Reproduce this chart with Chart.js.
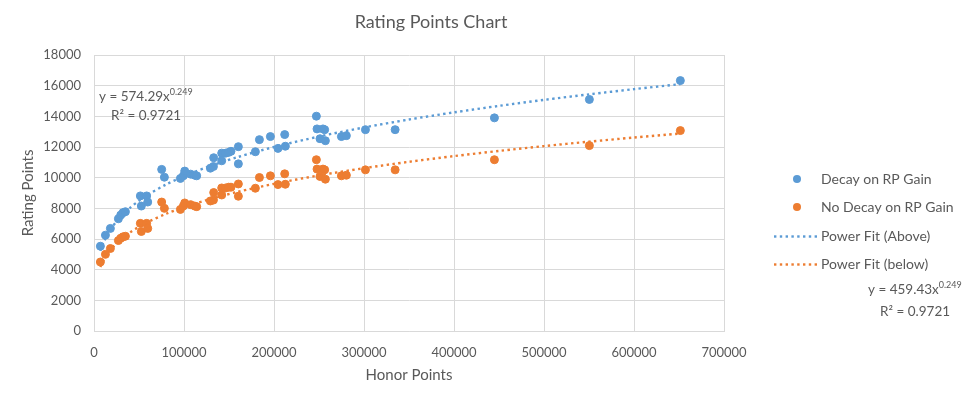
<!DOCTYPE html>
<html>
<head>
<meta charset="utf-8">
<script src="https://cdn.jsdelivr.net/npm/chart.js@4"></script>
<style>
  html, body { margin: 0; padding: 0; background: #fff; }
  #wrap { width: 965px; height: 396px; }
</style>
</head>
<body>
<div id="wrap"><canvas id="rpChart" width="965" height="396"></canvas></div>
<script>
// data
const honorPoints = [7100, 12700, 18200, 27100, 29700, 32200, 34900, 51500, 52600, 58500, 59700, 75200, 78200, 96000, 99300, 100800, 107400, 111900, 114100, 129300, 132700, 133000, 141900, 141900, 146300, 149700, 152200, 160400, 160400, 179300, 183800, 196000, 204400, 211900, 212600, 247100, 247800, 254400, 256300, 251100, 257100, 274900, 280400, 301600, 334600, 444900, 550400, 651500];
const decayRP = [5530, 6250, 6690, 7320, 7560, 7720, 7780, 8810, 8150, 8810, 8410, 10540, 10030, 9950, 10120, 10430, 10230, 10160, 10120, 10620, 10730, 11300, 11600, 11100, 11600, 11650, 11720, 12020, 10900, 11690, 12480, 12680, 11910, 12810, 12050, 14010, 13180, 13180, 13130, 12540, 12410, 12680, 12740, 13130, 13130, 13900, 15100, 16330];
const noDecayRP = [4500, 5000, 5380, 5900, 6050, 6140, 6180, 7020, 6490, 7020, 6690, 8410, 8000, 7930, 8150, 8350, 8240, 8150, 8110, 8480, 8540, 9030, 9330, 8870, 9330, 9380, 9380, 9590, 8790, 9310, 10010, 10120, 9550, 10250, 9570, 11170, 10560, 10560, 10510, 10080, 9900, 10120, 10160, 10510, 10510, 11170, 12090, 13070];

// trendline samples as shown in the picture
const fitX = [7100, 10000, 15000, 20000, 25000, 30000, 40000, 50000, 60000, 80000, 100000, 130000, 160000, 200000, 250000, 300000, 350000, 400000, 450000, 500000, 550000, 600000, 651500];
const fitAbove = [5225, 5691, 6295, 6762, 7148, 7481, 8036, 8496, 8889, 9550, 10096, 10777, 11349, 11998, 12683, 13273, 13792, 14258, 14682, 15073, 15434, 15773, 16100];
const fitBelow = [4180, 4553, 5036, 5410, 5719, 5985, 6429, 6796, 7111, 7640, 8077, 8622, 9079, 9598, 10147, 10618, 11034, 11406, 11745, 12058, 12347, 12618, 12880];

const seriesNames = ["Decay on RP Gain", "No Decay on RP Gain", "Power Fit (Above)", "Power Fit (below)"];
const xTicks = [0, 100000, 200000, 300000, 400000, 500000, 600000, 700000];
const yTicks = [0, 2000, 4000, 6000, 8000, 10000, 12000, 14000, 16000, 18000];

const blue = "#5B9BD5";
const orange = "#ED7D31";
const textColor = "#595959";
const gridColor = "#d9d9d9";
const font = "Lato, 'Open Sans', sans-serif";

function pairs(xs, ys) {
  return xs.map((x, i) => ({ x: x, y: ys[i] }));
}

// title, legend and trendline equations
const extras = {
  id: "extras",
  afterDraw(chart) {
    const ctx = chart.ctx;
    ctx.save();
    ctx.fillStyle = textColor;
    ctx.textBaseline = "middle";

    ctx.font = "18px " + font;
    ctx.textAlign = "center";
    ctx.fillText("Rating Points Chart", 431, 22);

    ctx.textAlign = "left";
    // legend
    ctx.fillStyle = blue;
    ctx.beginPath(); ctx.arc(797, 179, 4, 0, Math.PI * 2); ctx.fill();
    ctx.fillStyle = orange;
    ctx.beginPath(); ctx.arc(797, 207, 4, 0, Math.PI * 2); ctx.fill();
    [[blue, 236.5], [orange, 264.5]].forEach(([c, y]) => {
      ctx.fillStyle = c;
      for (let x = 774; x < 820; x += 5.8) {
        ctx.fillRect(x, y - 1.2, 2.4, 2.4);
      }
    });
    ctx.fillStyle = textColor;
    ctx.font = "14px " + font;
    const rows = [179, 207, 236.5, 264.5];
    seriesNames.forEach((n, i) => ctx.fillText(n, 821, rows[i]));

    // equations
    function eq(x, y, base, r2x, r2y) {
      ctx.font = "13.5px " + font;
      ctx.fillText(base, x, y);
      const w = ctx.measureText(base).width;
      ctx.font = "9px " + font;
      ctx.fillText("0.249", x + w, y - 5);
      ctx.font = "13.5px " + font;
      ctx.fillText("R\u00B2 = 0.9721", r2x, r2y);
    }
    eq(99, 97, "y = 574.29x", 111, 116);
    eq(868, 290, "y = 459.43x", 880, 312);
    ctx.restore();
  }
};

const fitLine = (label, ys, color) => ({
  type: "line",
  label: label,
  data: pairs(fitX, ys),
  borderColor: color,
  borderWidth: 2.4,
  borderDash: [2.4, 3.4],
  pointRadius: 0,
  fill: false,
  tension: 0.3,
  order: 0,
});

const rpChart = new Chart(document.getElementById("rpChart"), {
  type: "scatter",
  data: {
    datasets: [
      fitLine(seriesNames[2], fitAbove, blue),
      fitLine(seriesNames[3], fitBelow, orange),
      {
        label: seriesNames[0],
        data: pairs(honorPoints, decayRP),
        backgroundColor: blue,
        borderColor: blue,
        pointRadius: 4,
        order: 2,
      },
      {
        label: seriesNames[1],
        data: pairs(honorPoints, noDecayRP),
        backgroundColor: orange,
        borderColor: orange,
        pointRadius: 4,
        order: 1,
      },
    ],
  },
  plugins: [extras],
  options: {
    responsive: false,
    animation: false,
    layout: { padding: { top: 55, right: 241, left: 0, bottom: 0 } },
    plugins: { legend: { display: false }, title: { display: false }, tooltip: { enabled: false } },
    scales: {
      x: {
        type: "linear",
        min: 0,
        max: 700000,
        afterBuildTicks: (s) => { s.ticks = xTicks.map((v) => ({ value: v })); },
        afterFit: (s) => { s.height = 65; },
        grid: { color: gridColor, drawTicks: false },
        border: { color: gridColor },
        ticks: { color: textColor, font: { family: font, size: 13 }, padding: 14, maxRotation: 0, callback: (v) => String(v) },
        title: { display: true, text: "Honor Points", color: textColor, font: { family: font, size: 15 }, padding: { top: 4, bottom: 12 } },
      },
      y: {
        type: "linear",
        min: 0,
        max: 18000,
        afterBuildTicks: (s) => { s.ticks = yTicks.map((v) => ({ value: v })); },
        afterFit: (s) => { s.width = 94; },
        grid: { color: gridColor, drawTicks: false },
        border: { color: gridColor },
        ticks: { color: textColor, font: { family: font, size: 13 }, padding: 13, callback: (v) => String(v) },
        title: { display: true, text: "Rating Points", color: textColor, font: { family: font, size: 15 }, padding: { top: 19, bottom: 4 } },
      },
    },
  },
});
</script>
</body>
</html>
